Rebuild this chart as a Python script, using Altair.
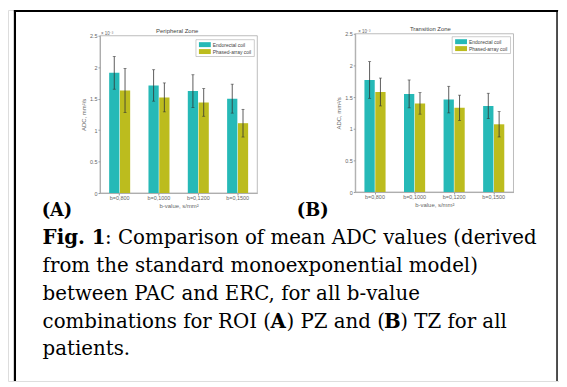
import altair as alt
import pandas as pd

# ---------------- data ----------------
categories = ["b=0,800", "b=0,1000", "b=0,1200", "b=0,1500"]
series = ["Endorectal coil", "Phased-array coil"]

pz_erc = [1.91, 1.71, 1.62, 1.50]
pz_erc_err = [0.26, 0.25, 0.26, 0.23]
pz_pac = [1.63, 1.52, 1.44, 1.11]
pz_pac_err = [0.35, 0.23, 0.22, 0.22]

tz_erc = [1.77, 1.55, 1.46, 1.36]
tz_erc_err = [0.29, 0.22, 0.21, 0.20]
tz_pac = [1.58, 1.40, 1.33, 1.07]
tz_pac_err = [0.22, 0.17, 0.20, 0.20]

y_ticks = [0, 0.5, 1, 1.5, 2, 2.5]
panel_titles = ["Peripheral Zone", "Transition Zone"]
panel_letters = ["(A)", "(B)"]

caption_lines = [
    [("Fig. 1", True), (": Comparison of mean ADC values (derived", False)],
    [("from the standard monoexponential model)", False)],
    [("between PAC and ERC, for all b-value", False)],
    [("combinations for ROI (", False), ("A", True), (") PZ and (", False),
     ("B", True), (") TZ for all", False)],
    [("patients.", False)],
]

colors = ["#26b9b7", "#bcbc1e"]

# ---------------- layout (chart pixel coords) ----------------
W, H = 557, 375
SANS = "Liberation Sans"
SERIF = "DejaVu Serif"
GRAY = "#666666"


def make_df(erc, erc_err, pac, pac_err):
    rows = []
    for i, c in enumerate(categories):
        rows.append({"cat": c, "series": series[0], "v": erc[i],
                     "lo": erc[i] - erc_err[i], "hi": erc[i] + erc_err[i]})
        rows.append({"cat": c, "series": series[1], "v": pac[i],
                     "lo": pac[i] - pac_err[i], "hi": pac[i] + pac_err[i]})
    return pd.DataFrame(rows)


one = alt.Data(values=[{"a": 0}])


def txt(s, x, y, size, color="black", bold=False, font=SANS, align="left",
        baseline="alphabetic", angle=0):
    kw = dict(text=s, fontSize=size, color=color, font=font, align=align,
              baseline=baseline, fontWeight="bold" if bold else "normal")
    if angle:
        kw["angle"] = angle
    return alt.Chart(one).mark_text(**kw).encode(x=alt.value(x), y=alt.value(y))


def panel(df, xr, yr, title, title_xy, exp_xy, legend_xy):
    xs = alt.Scale(domain=categories, range=xr, paddingInner=0, paddingOuter=0)
    ys = alt.Scale(domain=[0, 2.5], range=yr, nice=False, zero=True)
    xo = alt.Scale(domain=series, paddingInner=0.05, paddingOuter=0.85)
    col = alt.Scale(domain=series, range=colors)

    xaxis = alt.Axis(orient="bottom", offset=yr[0] - H, title="b-value, s/mm²",
                     labelAngle=0, labelFontSize=5.5, labelColor=GRAY, labelFont=SANS,
                     titleFontSize=6, titleColor=GRAY, titleFont=SANS, titleFontWeight="normal",
                     titlePadding=1, labelPadding=1, tickSize=2, tickColor="#999",
                     domainColor="#999", domainWidth=0.8, ticks=True)
    yaxis = alt.Axis(orient="left", offset=-xr[0], title="ADC, mm²/s", values=y_ticks,
                     format="~g", labelFontSize=5.5, labelColor=GRAY, labelFont=SANS,
                     titleFontSize=6, titleColor=GRAY, titleFont=SANS, titleFontWeight="normal",
                     titlePadding=3, labelPadding=1, tickSize=2, tickColor="#999",
                     domainColor="#999", domainWidth=0.8, grid=False)

    base = alt.Chart(df)
    bars = base.mark_bar(strokeWidth=0).encode(
        x=alt.X("cat:N", scale=xs, axis=xaxis, sort=categories),
        xOffset=alt.XOffset("series:N", scale=xo, sort=series),
        y=alt.Y("v:Q", scale=ys, axis=yaxis),
        color=alt.Color("series:N", scale=col, legend=None),
    )
    err = base.mark_rule(color="#333333", strokeWidth=0.8).encode(
        x=alt.X("cat:N", sort=categories),
        xOffset=alt.XOffset("series:N", sort=series),
        y="lo:Q", y2="hi:Q",
    )
    cap_hi = base.mark_tick(color="#333333", size=3, thickness=0.8, orient="horizontal").encode(
        x=alt.X("cat:N", sort=categories),
        xOffset=alt.XOffset("series:N", sort=series),
        y="hi:Q",
    )
    cap_lo = base.mark_tick(color="#333333", size=3, thickness=0.8, orient="horizontal").encode(
        x=alt.X("cat:N", sort=categories),
        xOffset=alt.XOffset("series:N", sort=series),
        y="lo:Q",
    )
    frame = alt.Chart(one).mark_rect(fill=None, stroke="#aaaaaa", strokeWidth=0.8).encode(
        x=alt.value(xr[0]), x2=alt.value(xr[1]), y=alt.value(yr[1]), y2=alt.value(yr[0]))

    lx, ly = legend_xy
    leg_box = alt.Chart(one).mark_rect(fill="white", stroke="#aaaaaa", strokeWidth=0.6).encode(
        x=alt.value(lx), x2=alt.value(lx + 59), y=alt.value(ly), y2=alt.value(ly + 17))
    leg = [leg_box]
    for i, s in enumerate(series):
        yy = ly + 2.5 + i * 7
        leg.append(alt.Chart(one).mark_rect(fill=colors[i]).encode(
            x=alt.value(lx + 3), x2=alt.value(lx + 15), y=alt.value(yy), y2=alt.value(yy + 5)))
        leg.append(txt(s, lx + 17, yy + 2.5, 5, color="#444", baseline="middle"))

    t = txt(title, title_xy[0], title_xy[1], 6, color="#444", align="center")
    e = txt("× 10⁻³", exp_xy[0], exp_xy[1], 4.5, color=GRAY)

    return alt.layer(frame, bars, err, cap_hi, cap_lo, t, e, *leg)


pA = panel(make_df(pz_erc, pz_erc_err, pz_pac, pz_pac_err),
           [93, 252], [185, 26], panel_titles[0], (171, 23), (94, 25), (190, 30))
pB = panel(make_df(tz_erc, tz_erc_err, tz_pac, tz_pac_err),
           [351, 511], [184, 24], panel_titles[1], (427, 21), (354, 23), (449, 27))

panels = alt.layer(pA, pB).resolve_scale(x="independent", y="independent",
                                         xOffset="independent")

# ---------------- border, letters, caption ----------------
border = [
    alt.Chart(one).mark_rule(color="black", strokeWidth=2).encode(
        x=alt.value(6), x2=alt.value(556), y=alt.value(1)),
    alt.Chart(one).mark_rule(color="black", strokeWidth=2.2).encode(
        x=alt.value(7), y=alt.value(0), y2=alt.value(H)),
    alt.Chart(one).mark_rule(color="black", strokeWidth=1.4).encode(
        x=alt.value(555), y=alt.value(0), y2=alt.value(H)),
]

letters = [
    txt(panel_letters[0], 34, 208, 18, bold=True, font=SERIF),
    txt(panel_letters[1], 292, 208, 18, bold=True, font=SERIF),
]

line_y = [237, 265, 293, 321, 349]
seg_x = [
    [35, 98],
    [35],
    [35],
    [35, 265.3, 281.5, 380.1, 396.5],
    [35],
]
cap = []
for li, segs in enumerate(caption_lines):
    for si, (s, b) in enumerate(segs):
        cap.append(txt(s, seg_x[li][si], line_y[li], 20, bold=b, font=SERIF))

chart = alt.layer(panels, *border, *letters, *cap).properties(
    width=W, height=H, autosize=alt.AutoSizeParams(type="none"), padding=0,
).configure_view(stroke=None).configure(background="white")

chart.save("out.html", embed_options={"renderer": "svg", "actions": False})
